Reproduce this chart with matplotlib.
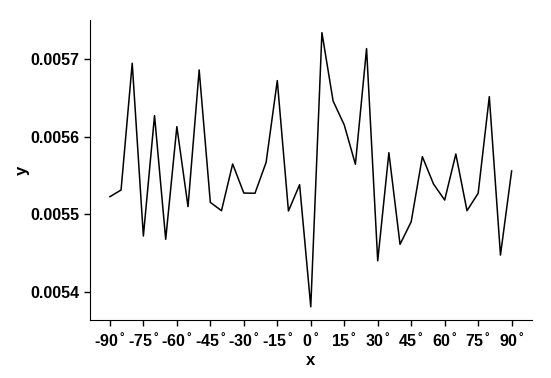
import matplotlib
matplotlib.use('Agg')
import numpy as np
import matplotlib.pyplot as plt

plt.rcParams['font.family'] = ['Liberation Sans', 'DejaVu Sans']
plt.rcParams['font.weight'] = 'bold'
plt.rcParams['mathtext.fontset'] = 'custom'
plt.rcParams['mathtext.rm'] = 'Liberation Sans:bold'
plt.rcParams['mathtext.default'] = 'regular'

# angle in degrees
angles = np.arange(-90, 91, 5)
values = [0.0055228, 0.0055314, 0.0056944, 0.0054722, 0.0056271, 0.0054680,
          0.0056129, 0.0055100, 0.0056858, 0.0055155, 0.0055048, 0.0055649,
          0.0055275, 0.0055272, 0.0055670, 0.0056721, 0.0055044, 0.0055382,
          0.0053812, 0.0057338, 0.0056459, 0.0056151, 0.0055645, 0.0057133,
          0.0054404, 0.0055794, 0.0054615, 0.0054906, 0.0055743, 0.0055391,
          0.0055185, 0.0055777, 0.0055048, 0.0055272, 0.0056515, 0.0054477,
          0.0055559]
xticks = list(range(-90, 91, 15))
yticks = [0.0054, 0.0055, 0.0056, 0.0057]

fig = plt.figure(figsize=(5.51, 3.78), dpi=100)
ax = fig.add_axes([0.163, 0.153, 0.802, 0.794])
ax.plot(angles, values, color='black', lw=1.1)

ax.set_xlim(-99, 99)
ax.set_ylim(0.005364, 0.00575)
ax.set_xticks(xticks)
ax.set_xticklabels([r'%d$^{\,\degree}$' % t for t in xticks])
ax.set_yticks(yticks)
ax.set_yticklabels(['%.4f' % t for t in yticks])
ax.tick_params(labelsize=11.5, direction='out', length=4, width=1)
for lbl in ax.get_xticklabels() + ax.get_yticklabels():
    lbl.set_fontweight('bold')

ax.spines['top'].set_visible(False)
ax.spines['right'].set_visible(False)
ax.set_xlabel('x', fontsize=12, fontweight='bold', labelpad=2)
ax.set_ylabel('y', fontsize=12, fontweight='bold', labelpad=0)

plt.savefig('out.png', dpi=100)
